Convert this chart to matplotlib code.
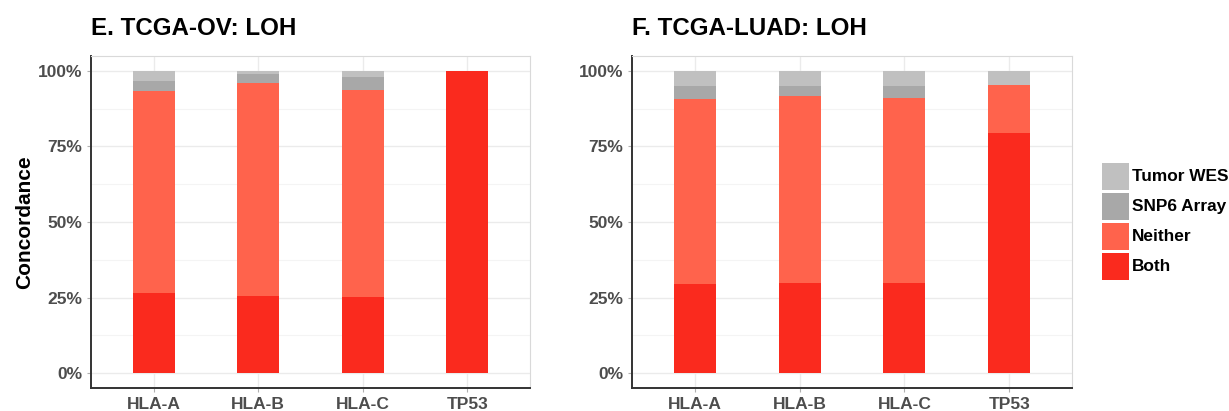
import numpy as np
import matplotlib.pyplot as plt
from matplotlib.patches import Rectangle
from matplotlib.ticker import FixedLocator

plt.rcParams['font.family'] = ['Liberation Sans', 'DejaVu Sans']

genes = ['HLA-A', 'HLA-B', 'HLA-C', 'TP53']
categories = ['Both', 'Neither', 'SNP6 Array', 'Tumor WES']
colors = ['#FA2A1E', '#FF634C', '#A8A8A8', '#C0C0C0']

# percentages per gene, stacked from the bottom: Both, Neither, SNP6 Array, Tumor WES
ov_both = [26.6, 25.7, 25.3, 100.0]
ov_neither = [66.7, 70.1, 68.3, 0.0]
ov_snp6 = [3.4, 3.2, 4.4, 0.0]
ov_wes = [3.3, 1.0, 2.0, 0.0]

luad_both = [29.4, 29.7, 29.7, 79.3]
luad_neither = [61.2, 61.9, 61.4, 16.1]
luad_snp6 = [4.3, 3.3, 3.8, 0.0]
luad_wes = [5.1, 5.1, 5.1, 4.6]

panels = [
    ('E. TCGA-OV: LOH', [ov_both, ov_neither, ov_snp6, ov_wes]),
    ('F. TCGA-LUAD: LOH', [luad_both, luad_neither, luad_snp6, luad_wes]),
]

W, H = 1229, 411
fig = plt.figure(figsize=(W / 100, H / 100), dpi=100)
ax_pos = [[0.0740, 0.055, 0.3572, 0.8097], [0.5142, 0.055, 0.3581, 0.8097]]

for i, (title, series) in enumerate(panels):
    ax = fig.add_axes(ax_pos[i])
    x = np.arange(len(genes))
    bottom = np.zeros(len(genes))
    for vals, col in zip(series, colors):
        ax.bar(x, vals, width=0.4, bottom=bottom, color=col, zorder=3, linewidth=0)
        bottom += np.array(vals)

    ax.set_xlim(-0.6, len(genes) - 0.4)
    ax.set_ylim(-5, 105)
    ax.set_xticks(x)
    ax.set_xticklabels(genes, fontsize=12.5, fontweight='bold', color='#4D4D4D')
    ax.set_yticks([0, 25, 50, 75, 100])
    ax.set_yticklabels(['0%', '25%', '50%', '75%', '100%'], fontsize=12.5,
                       fontweight='bold', color='#4D4D4D')
    ax.yaxis.set_minor_locator(FixedLocator([12.5, 37.5, 62.5, 87.5]))
    ax.tick_params(axis='both', which='major', length=3, color='#B0B0B0', pad=3)
    ax.tick_params(axis='y', which='minor', length=0)

    ax.grid(True, which='major', color='#EBEBEB', linewidth=1.0, zorder=0)
    ax.grid(True, which='minor', axis='y', color='#F4F4F4', linewidth=0.8, zorder=0)

    for side in ['top', 'right']:
        ax.spines[side].set_color('#D9D9D9')
        ax.spines[side].set_linewidth(0.8)
    for side in ['left', 'bottom']:
        ax.spines[side].set_color('#333333')
        ax.spines[side].set_linewidth(1.4)

    ax.set_title(title, loc='left', fontsize=17.4, fontweight='bold', pad=15, x=0.0)
    if i == 0:
        ax.set_ylabel('Concordance', fontsize=15, fontweight='bold', labelpad=3)

# legend keys drawn by hand so the squares sit tight like ggplot's guide
key_x, key_w, key_h, key_step = 1102, 27, 27, 30
key_top = 163
for j, (name, col) in enumerate(zip(categories[::-1], colors[::-1])):
    y0 = key_top + j * key_step
    fig.patches.append(Rectangle((key_x / W, 1 - (y0 + key_h) / H), key_w / W, key_h / H,
                                 transform=fig.transFigure, facecolor=col, edgecolor='none'))
    fig.text((key_x + key_w + 3) / W, 1 - (y0 + key_h / 2) / H, name,
             fontsize=12.4, fontweight='bold', va='center', ha='left')

fig.savefig('out.png', dpi=100, facecolor='white')
